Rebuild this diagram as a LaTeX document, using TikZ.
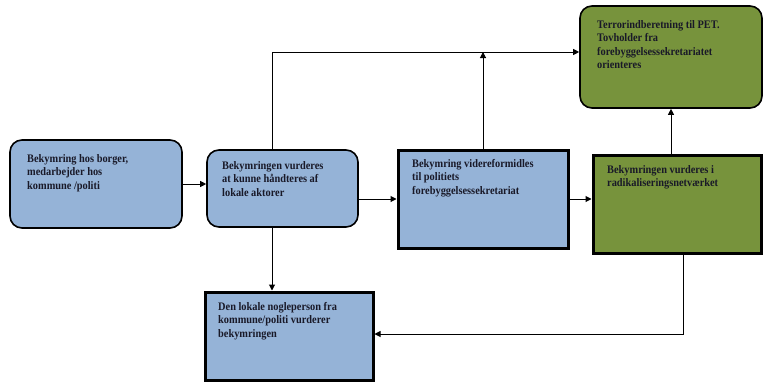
\documentclass[tikz,border=0pt]{standalone}
\usepackage{fontspec}
\setmainfont{Liberation Serif}[FakeStretch=0.9]
\usetikzlibrary{arrows.meta}
\definecolor{boxblue}{RGB}{149,179,215}
\definecolor{boxgreen}{RGB}{119,147,60}
\definecolor{txt}{RGB}{25,25,40}
\tikzset{
  rbox/.style={draw=black, line width=1.6pt, rounded corners=12pt, inner sep=0pt},
  tbox/.style={draw=black, line width=3pt, inner sep=0pt},
  lbl/.style={anchor=north west, align=left, inner sep=0pt, text=txt,
    font=\fontsize{11.5}{13.5}\selectfont\bfseries},
  conn/.style={draw=black, line width=1pt, -{Triangle[length=6pt,width=6pt]}},
  seg/.style={draw=black, line width=1pt}
}
\begin{document}
\begin{tikzpicture}[x=1pt,y=-1pt]
\useasboundingbox (0,0) rectangle (765,383);
% boxes
\node[rbox, fill=boxblue, minimum width=172, minimum height=88] (b1) at (96,184) {};
\node[rbox, fill=boxblue, minimum width=151, minimum height=77] (b2) at (282.5,188.5) {};
\node[tbox, fill=boxblue, minimum width=170, minimum height=98] (b3) at (483,199) {};
\node[tbox, fill=boxgreen, minimum width=168, minimum height=98] (b4) at (677,204) {};
\node[rbox, fill=boxgreen, minimum width=182, minimum height=102] (b5) at (671,57) {};
\node[tbox, fill=boxblue, minimum width=168, minimum height=88] (b6) at (289,336) {};
% texts
\node[lbl] (t1) at (27,154) {Bekymring hos borger,\\medarbejder hos\\kommune /politi};
\node[lbl] (t2) at (222,161) {Bekymringen vurderes\\at kunne håndteres af\\lokale aktorer};
\node[lbl] (t3) at (412,159) {Bekymring videreformidles\\til politiets\\forebyggelsessekretariat};
\node[lbl] (t4) at (607,165) {Bekymringen vurderes i\\radikaliseringsnetværket};
\node[lbl] (t5) at (597,20) {Terrorindberetning til PET.\\Tovholder fra\\forebyggelsessekretariatet\\orienteres};
\node[lbl] (t6) at (218,302) {Den lokale nogleperson fra\\kommune/politi vurderer\\bekymringen};
% helper coordinates
\coordinate (j1) at (272,52);
\coordinate (j2) at (683,334);
% connectors
\draw[conn] (b1.east) -- (b1.east -| b2.west);
\draw[conn] (b3.west -| b2.east) -- (b3.west);
\draw[conn] (b3.east) -- (b3.east -| b4.west);
\draw[conn] (j1 |- b2.north) -- (j1) -- (j1 -| b5.west);
\draw[conn] (b3.north) -- (b3.north |- j1);
\draw[conn] (b5.south |- b4.north) -- (b5.south);
\draw[conn] (j1 |- b2.south) -- (j1 |- b6.north);
\draw[conn] (j2 |- b4.south) -- (j2) -- (j2 -| b6.east);
\end{tikzpicture}
\end{document}
